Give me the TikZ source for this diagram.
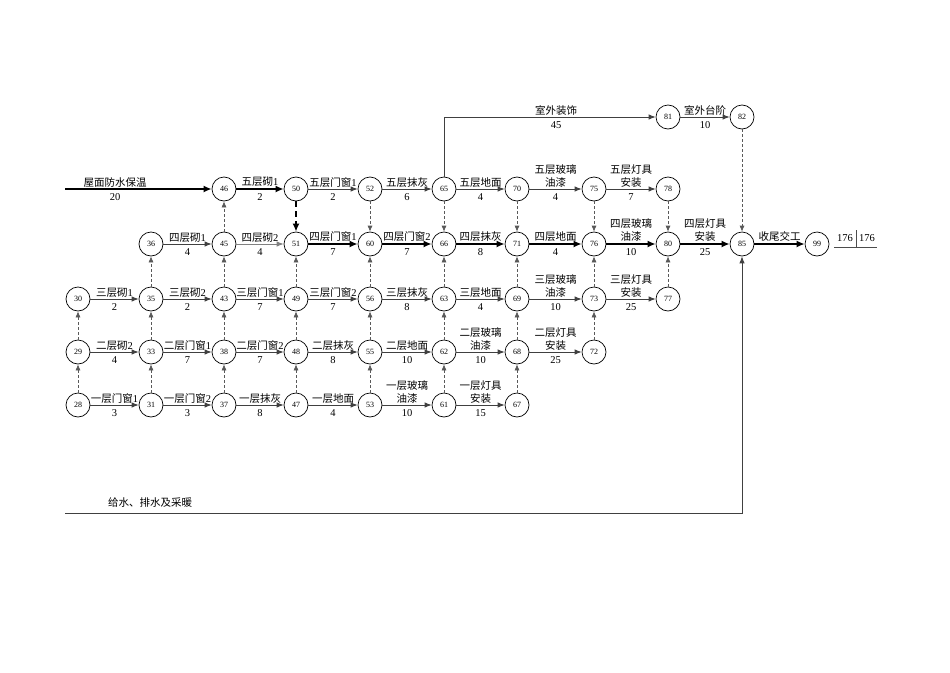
\documentclass[tikz,border=0pt]{standalone}
\usepackage{fontspec}
\setmainfont{Liberation Serif}
\newfontfamily\cjk{Noto Sans CJK SC}
\newcommand\zh[1]{{\cjk #1}}
\usetikzlibrary{arrows.meta}
\begin{document}
\begin{tikzpicture}[x=1pt,y=-1pt,
 ev/.style={circle,draw,line width=0.7pt,minimum size=24pt,inner sep=0pt,font=\fontsize{8}{9}\selectfont},
 act/.style={draw=black!75,line width=0.9pt,-{Latex[length=7pt,width=5.5pt]}},
 crit/.style={draw=black,line width=2pt,-{Latex[length=8pt,width=7pt]}},
 dum/.style={draw=black!65,line width=0.7pt,dash pattern=on 3pt off 2pt,-{Latex[length=6pt,width=5pt]}},
 nm/.style={anchor=south,align=center,font=\fontsize{10.5}{13}\selectfont,inner sep=0pt,yshift=1.5pt},
 du/.style={font=\fontsize{10.5}{12}\selectfont,inner sep=0pt,yshift=-8.5pt},
]
\useasboundingbox (0,0) rectangle (950,672);
% columns and rows
\def\cA{78}\def\cB{151}\def\cC{224}\def\cD{296}\def\cE{370}\def\cF{444}\def\cG{517}\def\cH{594}\def\cI{668}\def\cJ{742}\def\cK{817}
\def\rT{117}\def\rA{189}\def\rB{244}\def\rC{299}\def\rD{352}\def\rE{405}
% row A
\node[ev] (n46) at (\cC,\rA) {46};
\node[ev] (n50) at (\cD,\rA) {50};
\node[ev] (n52) at (\cE,\rA) {52};
\node[ev] (n65) at (\cF,\rA) {65};
\node[ev] (n70) at (\cG,\rA) {70};
\node[ev] (n75) at (\cH,\rA) {75};
\node[ev] (n78) at (\cI,\rA) {78};
% row B
\node[ev] (n36) at (\cB,\rB) {36};
\node[ev] (n45) at (\cC,\rB) {45};
\node[ev] (n51) at (\cD,\rB) {51};
\node[ev] (n60) at (\cE,\rB) {60};
\node[ev] (n66) at (\cF,\rB) {66};
\node[ev] (n71) at (\cG,\rB) {71};
\node[ev] (n76) at (\cH,\rB) {76};
\node[ev] (n80) at (\cI,\rB) {80};
\node[ev] (n85) at (\cJ,\rB) {85};
\node[ev] (n99) at (\cK,\rB) {99};
% row C
\node[ev] (n30) at (\cA,\rC) {30};
\node[ev] (n35) at (\cB,\rC) {35};
\node[ev] (n43) at (\cC,\rC) {43};
\node[ev] (n49) at (\cD,\rC) {49};
\node[ev] (n56) at (\cE,\rC) {56};
\node[ev] (n63) at (\cF,\rC) {63};
\node[ev] (n69) at (\cG,\rC) {69};
\node[ev] (n73) at (\cH,\rC) {73};
\node[ev] (n77) at (\cI,\rC) {77};
% row D
\node[ev] (n29) at (\cA,\rD) {29};
\node[ev] (n33) at (\cB,\rD) {33};
\node[ev] (n38) at (\cC,\rD) {38};
\node[ev] (n48) at (\cD,\rD) {48};
\node[ev] (n55) at (\cE,\rD) {55};
\node[ev] (n62) at (\cF,\rD) {62};
\node[ev] (n68) at (\cG,\rD) {68};
\node[ev] (n72) at (\cH,\rD) {72};
% row E
\node[ev] (n28) at (\cA,\rE) {28};
\node[ev] (n31) at (\cB,\rE) {31};
\node[ev] (n37) at (\cC,\rE) {37};
\node[ev] (n47) at (\cD,\rE) {47};
\node[ev] (n53) at (\cE,\rE) {53};
\node[ev] (n61) at (\cF,\rE) {61};
\node[ev] (n67) at (\cG,\rE) {67};
% top
\node[ev] (n81) at (\cI,\rT) {81};
\node[ev] (n82) at (\cJ,\rT) {82};

% free ends
\coordinate (s0) at (65,\rA);
\coordinate (b0) at (65,513);

% row A
\draw[crit] (s0) -- (n46);
\node[nm] at (115,\rA) {\zh{屋面防水保温}};
\node[du] at (115,\rA) {20};
\draw[crit] (n46) -- node[nm]{\zh{五层砌}1} node[du]{2} (n50);
\draw[act] (n50) -- node[nm]{\zh{五层门窗}1} node[du]{2} (n52);
\draw[act] (n52) -- node[nm]{\zh{五层抹灰}} node[du]{6} (n65);
\draw[act] (n65) -- node[nm]{\zh{五层地面}} node[du]{4} (n70);
\draw[act] (n70) -- node[nm]{\zh{五层玻璃}\\\zh{油漆}} node[du]{4} (n75);
\draw[act] (n75) -- node[nm]{\zh{五层灯具}\\\zh{安装}} node[du]{7} (n78);
% row B
\draw[act] (n36) -- node[nm]{\zh{四层砌}1} node[du]{4} (n45);
\draw[act,draw=black!50] (n45) -- node[nm]{\zh{四层砌}2} node[du]{4} (n51);
\draw[crit] (n51) -- node[nm]{\zh{四层门窗}1} node[du]{7} (n60);
\draw[crit] (n60) -- node[nm]{\zh{四层门窗}2} node[du]{7} (n66);
\draw[crit] (n66) -- node[nm]{\zh{四层抹灰}} node[du]{8} (n71);
\draw[crit] (n71) -- node[nm]{\zh{四层地面}} node[du]{4} (n76);
\draw[crit] (n76) -- node[nm]{\zh{四层玻璃}\\\zh{油漆}} node[du]{10} (n80);
\draw[crit] (n80) -- node[nm]{\zh{四层灯具}\\\zh{安装}} node[du]{25} (n85);
\draw[crit] (n85) -- node[nm]{\zh{收尾交工}} (n99);
% row C
\draw[act] (n30) -- node[nm]{\zh{三层砌}1} node[du]{2} (n35);
\draw[act] (n35) -- node[nm]{\zh{三层砌}2} node[du]{2} (n43);
\draw[act] (n43) -- node[nm]{\zh{三层门窗}1} node[du]{7} (n49);
\draw[act] (n49) -- node[nm]{\zh{三层门窗}2} node[du]{7} (n56);
\draw[act] (n56) -- node[nm]{\zh{三层抹灰}} node[du]{8} (n63);
\draw[act] (n63) -- node[nm]{\zh{三层地面}} node[du]{4} (n69);
\draw[act] (n69) -- node[nm]{\zh{三层玻璃}\\\zh{油漆}} node[du]{10} (n73);
\draw[act] (n73) -- node[nm]{\zh{三层灯具}\\\zh{安装}} node[du]{25} (n77);
% row D
\draw[act] (n29) -- node[nm]{\zh{二层砌}2} node[du]{4} (n33);
\draw[act] (n33) -- node[nm]{\zh{二层门窗}1} node[du]{7} (n38);
\draw[act] (n38) -- node[nm]{\zh{二层门窗}2} node[du]{7} (n48);
\draw[act] (n48) -- node[nm]{\zh{二层抹灰}} node[du]{8} (n55);
\draw[act] (n55) -- node[nm]{\zh{二层地面}} node[du]{10} (n62);
\draw[act] (n62) -- node[nm]{\zh{二层玻璃}\\\zh{油漆}} node[du]{10} (n68);
\draw[act] (n68) -- node[nm]{\zh{二层灯具}\\\zh{安装}} node[du]{25} (n72);
% row E
\draw[act] (n28) -- node[nm]{\zh{一层门窗}1} node[du]{3} (n31);
\draw[act] (n31) -- node[nm]{\zh{一层门窗}2} node[du]{3} (n37);
\draw[act] (n37) -- node[nm]{\zh{一层抹灰}} node[du]{8} (n47);
\draw[act] (n47) -- node[nm]{\zh{一层地面}} node[du]{4} (n53);
\draw[act] (n53) -- node[nm]{\zh{一层玻璃}\\\zh{油漆}} node[du]{10} (n61);
\draw[act] (n61) -- node[nm]{\zh{一层灯具}\\\zh{安装}} node[du]{15} (n67);
% top
\draw[act] (n65) -- (n65 |- n81) -- (n81);
\node[nm] at (556,\rT) {\zh{室外装饰}};
\node[du] at (556,\rT) {45};
\draw[act] (n81) -- node[nm]{\zh{室外台阶}} node[du]{10} (n82);
% bottom
\draw[act] (b0) -- (n85 |- b0) -- (n85);
\node[font=\cjk\fontsize{10.5}{12}\selectfont,anchor=south] at (150,511) {给水、排水及采暖};

% dummies
\foreach \a/\b in {28/29,29/30,31/33,33/35,35/36,37/38,38/43,43/45,45/46,47/48,48/49,49/51,53/55,55/56,56/60,61/62,62/63,63/66,67/68,68/69,69/71,72/73,73/76,77/80,52/60,65/66,70/71,75/76,78/80,82/85}
  \draw[dum] (n\a) -- (n\b);
\draw[crit,dash pattern=on 6pt off 4pt] (n50) -- (n51);

% total
\node[font=\fontsize{10.5}{12}\selectfont] (t1) at (845,238) {176};
\node[font=\fontsize{10.5}{12}\selectfont] (t2) at (867,238) {176};
\draw[black!70,line width=0.7pt] (834,247) -- (877,247);
\draw[black!70,line width=0.7pt] (856,230) -- (856,247);
\end{tikzpicture}
\end{document}
